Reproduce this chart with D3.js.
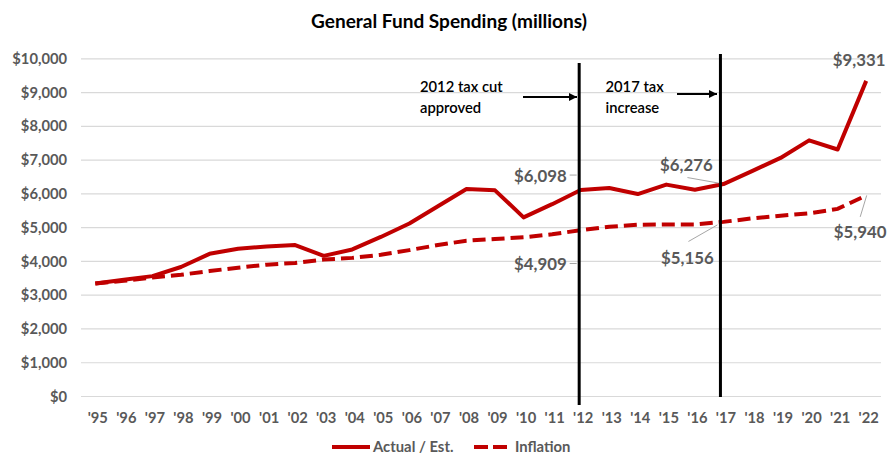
<!DOCTYPE html>
<html><head><meta charset="utf-8">
<script src="https://cdn.jsdelivr.net/npm/d3@7"></script>
<style>body{margin:0;background:#fff} svg{display:block}</style>
</head><body>
<svg id="chart" width="889" height="454"></svg>
<script>
// ---------- data ----------
const years = ["'95","'96","'97","'98","'99","'00","'01","'02","'03","'04","'05","'06","'07","'08","'09","'10","'11","'12","'13","'14","'15","'16","'17","'18","'19","'20","'21","'22"];
const actual = [3330,3440,3550,3820,4210,4360,4430,4470,4150,4340,4710,5110,5620,6130,6090,5290,5680,6098,6160,5980,6260,6110,6276,6660,7050,7570,7300,9331];
const inflation = [3330,3410,3510,3590,3700,3800,3890,3940,4040,4090,4180,4320,4470,4600,4650,4700,4790,4909,5010,5070,5080,5080,5156,5260,5340,5410,5540,5940];
const yTicks = [0,1000,2000,3000,4000,5000,6000,7000,8000,9000,10000];
const seriesNames = ["Actual / Est.","Inflation"];
const title = "General Fund Spending (millions)";
const markerYears = ["'12","'17"];
const markerNotes = [["2012 tax cut","approved"],["2017 tax","increase"]];
const labelActual = ["'12","'17","'22"];
const labelInflation = ["'12","'17","'22"];

// ---------- setup ----------
const svg = d3.select("#chart");
const FONT = "Lato, 'Open Sans', 'DejaVu Sans', sans-serif";
const RED = "#C00000", GRAY = "#595959", GRID = "#d9d9d9";
const fmt = v => "$" + d3.format(",")(v);

function fit(sample, target, weight) {
  const t = svg.append("text").attr("font-family", FONT).attr("font-weight", weight)
    .attr("font-size", 100).text(sample);
  const w = t.node().getComputedTextLength();
  t.remove();
  return 100 * target / w;
}
const fsAxis = fit("$10,000", 54.7, "bold");
const fsData = fit("$6,098", 52.7, "bold");
const fsTitle = fit(title, 276, "bold");
const fsNote = fit("2012 tax cut", 82.7, "600");
const fsLegend = fit("Actual / Est.", 83, "bold");

const x = d3.scalePoint().domain(years).range([95.3, 866.2]);
const y = d3.scaleLinear().domain([0, 10000]).range([396, 58.3]);

// title
svg.append("text").attr("x", 449).attr("y", 20).attr("text-anchor", "middle")
  .attr("dominant-baseline", "central").attr("font-family", FONT).attr("font-weight", "bold")
  .attr("font-size", fsTitle).attr("fill", "#000").text(title);

// y axis with grid
const gy = svg.append("g").attr("transform", "translate(81,0)")
  .call(d3.axisLeft(y).tickValues(yTicks).tickSize(-800).tickPadding(14).tickFormat(fmt));
gy.select(".domain").remove();
gy.selectAll(".tick line").attr("stroke", GRID).attr("stroke-width", 1.2);
gy.selectAll(".tick text").attr("font-family", FONT).attr("font-weight", "bold")
  .attr("font-size", fsAxis).attr("fill", GRAY).attr("dy", "0.35em");

// x axis
const gx = svg.append("g").attr("transform", "translate(0,396)")
  .call(d3.axisBottom(x).tickSize(0).tickPadding(0));
gx.select(".domain").remove();
gx.selectAll(".tick text").attr("font-family", FONT).attr("font-weight", "bold")
  .attr("font-size", fsAxis).attr("fill", GRAY).attr("y", 22).attr("dy", "0.35em").attr("dx", 2);

// lines
const line = d3.line().x((d, i) => x(years[i])).y(d => y(d));
svg.append("path").datum(inflation).attr("d", line).attr("fill", "none")
  .attr("stroke", RED).attr("stroke-width", 4).attr("stroke-dasharray", "13,6");
svg.append("path").datum(actual).attr("d", line).attr("fill", "none")
  .attr("stroke", RED).attr("stroke-width", 4).attr("stroke-linejoin", "round");

// marker lines
const vl = [{yr: markerYears[0], dx: -1.5, top: 63, bot: 405}, {yr: markerYears[1], dx: -3, top: 54, bot: 397}];
vl.forEach(m => {
  svg.append("line").attr("x1", x(m.yr) + m.dx).attr("x2", x(m.yr) + m.dx)
    .attr("y1", m.top).attr("y2", m.bot).attr("stroke", "#000").attr("stroke-width", 3);
});

// arrowheads
svg.append("defs").append("marker").attr("id", "arr").attr("viewBox", "0 0 10 10")
  .attr("refX", 10).attr("refY", 5).attr("markerWidth", 4).attr("markerHeight", 4)
  .attr("orient", "auto").attr("markerUnits", "strokeWidth")
  .append("path").attr("d", "M0,0L10,5L0,10z").attr("fill", "#000");

const notes = [
  {lines: markerNotes[0], tx: 420, ay: 97, ax1: 523, ax2: 577},
  {lines: markerNotes[1], tx: 605.5, ay: 94, ax1: 677, ax2: 717}
];
notes.forEach(n => {
  n.lines.forEach((s, i) => {
    svg.append("text").attr("x", n.tx).attr("y", 86 + i * 20.5).attr("dominant-baseline", "central")
      .attr("font-family", FONT).attr("font-weight", "600").attr("font-size", fsNote).attr("fill", "#000").text(s);
  });
  svg.append("line").attr("x1", n.ax1).attr("x2", n.ax2).attr("y1", n.ay).attr("y2", n.ay)
    .attr("stroke", "#000").attr("stroke-width", 2).attr("marker-end", "url(#arr)");
});

// data labels
const dl = [
  {yr: labelActual[0], v: actual[years.indexOf(labelActual[0])], dx: -14, dy: -15, anchor: "end", lead: [[-11, -15], [-4, -15]]},
  {yr: labelInflation[0], v: inflation[years.indexOf(labelInflation[0])], dx: -14, dy: 33.3, anchor: "end", lead: [[-11, 33.3], [-4, 33.3]]},
  {yr: labelActual[1], v: actual[years.indexOf(labelActual[1])], dx: -37, dy: -20, anchor: "middle", lead: [[-36, -6.5], [-5, -1]]},
  {yr: labelInflation[1], v: inflation[years.indexOf(labelInflation[1])], dx: -36, dy: 35.6, anchor: "middle", lead: [[-35, 19.6], [-6, 3]]},
  {yr: labelInflation[2], v: inflation[years.indexOf(labelInflation[2])], dx: -6, dy: 35.6, anchor: "middle", lead: [[0.5, 0], [-6, 21.5]]},
  {yr: labelActual[2], v: actual[years.indexOf(labelActual[2])], dx: -7, dy: -21.5, anchor: "middle", lead: null}
];
dl.forEach(d => {
  const px = x(d.yr), py = y(d.v);
  if (d.lead) {
    svg.append("line").attr("x1", px + d.lead[0][0]).attr("y1", py + d.lead[0][1])
      .attr("x2", px + d.lead[1][0]).attr("y2", py + d.lead[1][1])
      .attr("stroke", "#a6a6a6").attr("stroke-width", 1);
  }
  svg.append("text").attr("x", px + d.dx).attr("y", py + d.dy).attr("text-anchor", d.anchor)
    .attr("dominant-baseline", "central").attr("font-family", FONT).attr("font-weight", "bold")
    .attr("font-size", fsData).attr("fill", GRAY).text(fmt(d.v));
});

// legend
const LY = 446;
const lg = svg.append("g");
lg.append("line").attr("x1", 332).attr("x2", 370).attr("y1", LY + 1).attr("y2", LY + 1)
  .attr("stroke", RED).attr("stroke-width", 4);
lg.append("text").attr("x", 373).attr("y", LY).attr("dominant-baseline", "central")
  .attr("font-family", FONT).attr("font-weight", "bold").attr("font-size", fsLegend * 0.97)
  .attr("fill", GRAY).text(seriesNames[0]);
lg.append("line").attr("x1", 474).attr("x2", 507).attr("y1", LY + 1).attr("y2", LY + 1)
  .attr("stroke", RED).attr("stroke-width", 4).attr("stroke-dasharray", "14,5");
lg.append("text").attr("x", 515).attr("y", LY).attr("dominant-baseline", "central")
  .attr("font-family", FONT).attr("font-weight", "bold").attr("font-size", fsLegend * 0.97)
  .attr("fill", GRAY).text(seriesNames[1]);
</script>
</body></html>
